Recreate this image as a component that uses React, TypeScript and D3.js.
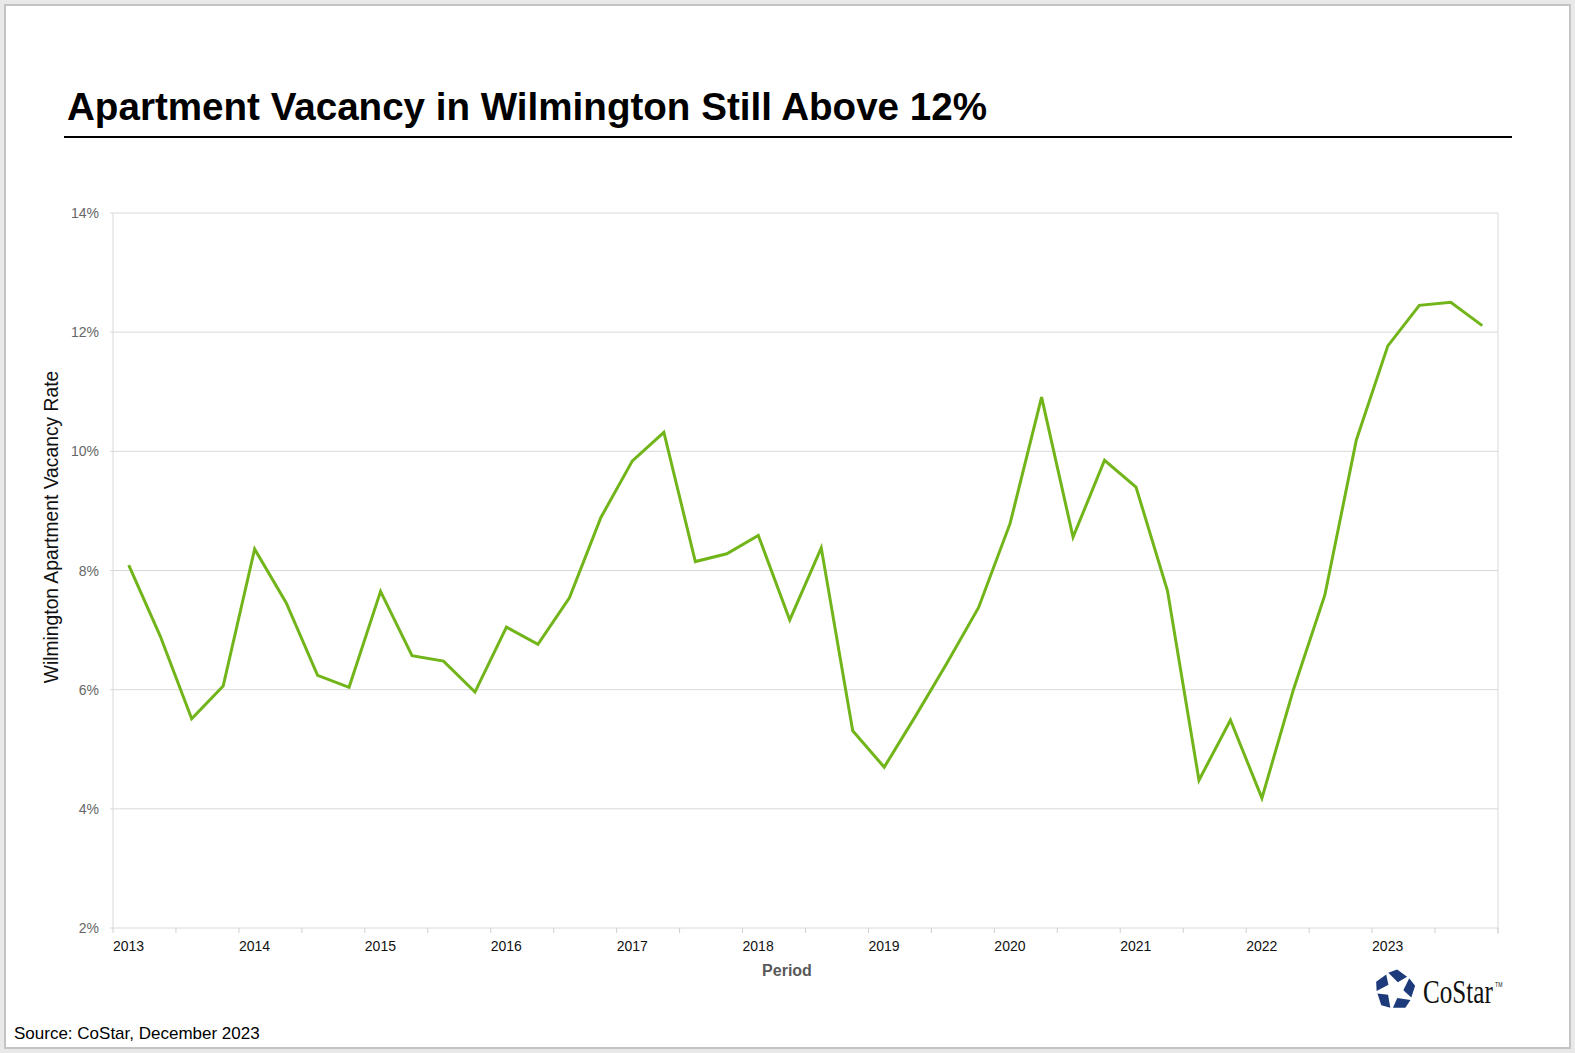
import React, { useEffect } from 'react';
import { scaleBand, scaleLinear, line, range } from 'd3';

const quarters = [
  '2013Q1', '2013Q2', '2013Q3', '2013Q4',
  '2014Q1', '2014Q2', '2014Q3', '2014Q4',
  '2015Q1', '2015Q2', '2015Q3', '2015Q4',
  '2016Q1', '2016Q2', '2016Q3', '2016Q4',
  '2017Q1', '2017Q2', '2017Q3', '2017Q4',
  '2018Q1', '2018Q2', '2018Q3', '2018Q4',
  '2019Q1', '2019Q2', '2019Q3', '2019Q4',
  '2020Q1', '2020Q2', '2020Q3', '2020Q4',
  '2021Q1', '2021Q2', '2021Q3', '2021Q4',
  '2022Q1', '2022Q2', '2022Q3', '2022Q4',
  '2023Q1', '2023Q2', '2023Q3', '2023Q4',
];

const vacancy = [
  8.09, 6.9, 5.51, 6.06,
  8.36, 7.46, 6.24, 6.04,
  7.65, 6.57, 6.48, 5.96,
  7.05, 6.76, 7.54, 8.89,
  9.84, 10.32, 8.15, 8.28,
  8.59, 7.17, 8.38, 5.31,
  4.7, 5.56, 6.45, 7.38,
  8.79, 10.91, 8.56, 9.85,
  9.4, 7.66, 4.48, 5.49,
  4.18, 6.0, 7.59, 10.19,
  11.77, 12.45, 12.5, 12.11,
];

const yearTicks = [2013, 2014, 2015, 2016, 2017, 2018, 2019, 2020, 2021, 2022, 2023];
const yTicks = [2, 4, 6, 8, 10, 12, 14];

const title = 'Apartment Vacancy in Wilmington Still Above 12%';
const yTitle = 'Wilmington Apartment Vacancy Rate';
const xTitle = 'Period';
const source = 'Source: CoStar, December 2023';

const W = 1575;
const H = 1053;
const plot = { left: 113, right: 1498, top: 213, bottom: 928 };
const font = '"Liberation Sans", Arial, sans-serif';

function Logo({ cx, cy, r }: { cx: number; cy: number; r: number }) {
  // five-piece pinwheel, roughly the CoStar mark
  const v = range(5).map(k => {
    const a = ((-90 + 72 * k) * Math.PI) / 180;
    return [cx + r * Math.cos(a), cy + r * Math.sin(a)];
  });
  const lerp = (p: number[], q: number[], t: number) => [p[0] + (q[0] - p[0]) * t, p[1] + (q[1] - p[1]) * t];
  const pieces = range(5).map(k => {
    const a = v[k];
    const b = v[(k + 1) % 5];
    const c = v[(k + 4) % 5];
    const ia = ((-90 + 72 * k + 20) * Math.PI) / 180;
    const inner = [cx + r * 0.38 * Math.cos(ia), cy + r * 0.38 * Math.sin(ia)];
    const pts = [lerp(a, b, 0.1), lerp(a, b, 0.58), inner, lerp(a, c, 0.32)];
    return pts.map(p => p.join(',')).join(' ');
  });
  return (
    <g>
      {pieces.map((p, i) => (
        <polygon key={i} points={p} fill="#1d3a7a" />
      ))}
    </g>
  );
}

export default function App() {
  useEffect(() => {
    document.body.style.margin = '0';
  }, []);

  const x = scaleBand<string>().domain(quarters).range([plot.left, plot.right]);
  const t = scaleLinear().domain([2013, 2024]).range([plot.left, plot.right]);
  const y = scaleLinear().domain([2, 14]).range([plot.bottom, plot.top]);

  const path = line<number>()
    .x((_, i) => (x(quarters[i]) as number) + x.bandwidth() / 2)
    .y(d => y(d))(vacancy);

  const halfYears = range(2013, 2024.01, 0.5);

  return (
    <svg width={W} height={H} style={{ position: 'absolute', left: 0, top: 0, display: 'block' }}>
      <rect x={0} y={0} width={W} height={H} fill="#e9e9e9" />
      <rect x={5} y={5} width={1565} height={1043} fill="#ffffff" stroke="#c4c4c4" strokeWidth={2} />

      <text x={67} y={120} fontFamily={font} fontWeight="bold" fontSize={38.6} fill="#000">
        {title}
      </text>
      <line x1={64} x2={1512} y1={137} y2={137} stroke="#000" strokeWidth={2} />

      {yTicks.map(v => (
        <g key={v}>
          <line x1={plot.left - 3} x2={plot.right} y1={y(v)} y2={y(v)} stroke="#d9d9d9" strokeWidth={1} />
          <text x={99} y={y(v) + 5} textAnchor="end" fontFamily={font} fontSize={14} fill="#666">
            {v}%
          </text>
        </g>
      ))}
      <line x1={plot.left} x2={plot.left} y1={plot.top} y2={plot.bottom} stroke="#d9d9d9" />
      <line x1={plot.right} x2={plot.right} y1={plot.top} y2={plot.bottom + 6} stroke="#d9d9d9" />

      {halfYears.map(h => (
        <line key={h} x1={t(h)} x2={t(h)} y1={plot.bottom} y2={plot.bottom + 5} stroke="#d0d0d0" />
      ))}
      {yearTicks.map(yr => (
        <text key={yr} x={t(yr)} y={951} fontFamily={font} fontSize={14} fill="#111">
          {yr}
        </text>
      ))}

      <path d={path || ''} fill="none" stroke="#72b51a" strokeWidth={3} strokeLinejoin="miter" />

      <text x={787} y={976} textAnchor="middle" fontFamily={font} fontWeight="bold" fontSize={16} fill="#595959">
        {xTitle}
      </text>
      <text
        transform="translate(58, 527) rotate(-90)"
        textAnchor="middle"
        fontFamily={font}
        fontSize={19.3}
        fill="#111"
      >
        {yTitle}
      </text>

      <text x={14} y={1039} fontFamily={font} fontSize={17} fill="#000">
        {source}
      </text>

      <Logo cx={1395} cy={990} r={22} />
      <text
        transform="translate(1423, 1003) scale(0.74, 1)"
        fontFamily='"Liberation Serif", "Times New Roman", serif'
        fontSize={34}
        fill="#111"
      >
        CoStar
        <tspan fontFamily={font} fontSize={7} dx={3} dy={-16}>TM</tspan>
      </text>
    </svg>
  );
}
